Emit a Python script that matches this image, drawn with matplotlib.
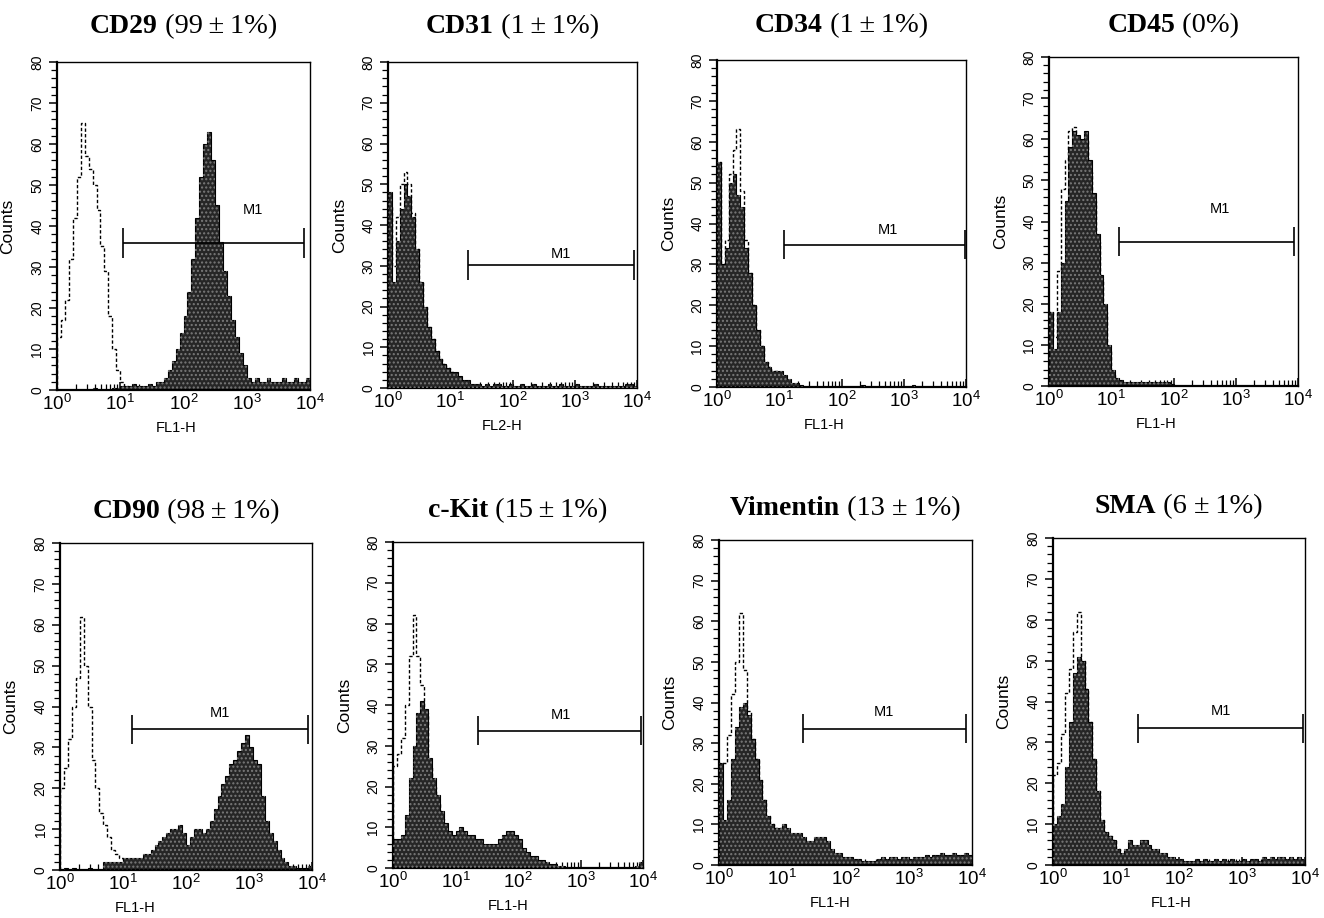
import numpy as np
import matplotlib

matplotlib.use("Agg")
import matplotlib.pyplot as plt
from matplotlib.ticker import MultipleLocator, LogLocator, FixedLocator, FuncFormatter, NullFormatter

plt.rcParams["font.family"] = ["Liberation Sans", "DejaVu Sans"]

# ---- data: counts per channel bin, 16 bins per decade from 10^0 to 10^4 ----
markers = ["CD29", "CD31", "CD34", "CD45", "CD90", "c-Kit", "Vimentin", "SMA"]
percent_labels = [" (99\u2009\u00b1\u20091%)", " (1\u2009\u00b1\u20091%)", " (1\u2009\u00b1\u20091%)", " (0%)",
                  " (98\u2009\u00b1\u20091%)", " (15\u2009\u00b1\u20091%)", " (13 \u00b1\u20091%)",
                  " (6 \u00b1\u20091%)"]
channels = ["FL1-H", "FL2-H", "FL1-H", "FL1-H", "FL1-H", "FL1-H", "FL1-H", "FL1-H"]
decades = [1, 10, 100, 1000, 10000]

cd29_stained = [
    0, 0, 0, 0, 0, 0, 0, 0, 0, 0.5, 0, 0, 0, 0, 0.5, 0.5,
    1, 1, 1, 1.5, 1, 1, 1, 1.5, 1, 2, 2, 3, 5, 7, 10, 14,
    18, 24, 32, 42, 52, 60, 63, 56, 45, 36, 29, 23, 17, 13, 9, 6,
    3, 2, 3, 2, 2, 3, 2, 2, 2, 3, 2, 2, 3, 2, 2, 3,
]
cd29_control = [
    13, 17, 22, 32, 42, 52, 65, 57, 54, 50, 44, 35, 29, 18, 10, 5,
    2, 1, 0.5, 0, 0, 0, 0, 0, 0, 0, 0, 0, 0, 0, 0, 0,
    0, 0, 0, 0, 0, 0, 0, 0, 0, 0, 0, 0, 0, 0, 0, 0,
    0, 0, 0, 0, 0, 0, 0, 0, 0, 0, 0, 0, 0, 0, 0, 0,
]
cd31_stained = [
    48, 26, 36, 44, 50, 47, 42, 34, 26, 20, 15, 12, 9, 7, 6, 5,
    4, 4, 3, 2, 2, 1, 1, 1, 0.5, 1, 0.5, 1, 1, 0.5, 0.5, 1,
    0.5, 0.5, 1, 0.5, 0.5, 1, 0.5, 0.5, 0.5, 1, 0.5, 0.5, 1, 0.5, 0.5, 0.5,
    1, 0.5, 0.5, 0.5, 0.5, 1, 0.5, 0.5, 0.5, 0.5, 0.5, 0.5, 0.5, 1, 1, 0.5,
]
cd31_control = [
    45, 30, 42, 50, 53, 50, 43, 34, 26, 20, 15, 12, 9, 7, 6, 5,
    4, 3, 2, 1, 1, 0.5, 0, 0, 0, 0, 0, 0, 0, 0, 0, 0,
    0, 0, 0, 0, 0, 0, 0, 0, 0, 0, 0, 0, 0, 0, 0, 0,
    0, 0, 0, 0, 0, 0, 0, 0, 0, 0, 0, 0, 0, 0, 0, 0,
]
cd34_stained = [
    55, 30, 34, 50, 52, 47, 44, 34, 28, 20, 14, 10, 6, 5, 4, 4,
    4, 3, 2, 1, 1, 0.5, 0, 0, 0, 0, 0, 0, 0, 0, 0, 0,
    0, 0, 0, 0, 0, 0.5, 0, 0, 0, 0, 0, 0, 0, 0, 0, 0,
    0, 0, 0.5, 0, 0, 0, 0, 0, 0, 0, 0, 0, 0, 0, 0, 0,
]
cd34_control = [
    55, 30, 36, 52, 58, 63, 48, 36, 28, 20, 14, 10, 6, 5, 4, 4,
    3, 2, 1, 0.5, 0, 0, 0, 0, 0, 0, 0, 0, 0, 0, 0, 0,
    0, 0, 0, 0, 0, 0, 0, 0, 0, 0, 0, 0, 0, 0, 0, 0,
    0, 0, 0, 0, 0, 0, 0, 0, 0, 0, 0, 0, 0, 0, 0, 0,
]
cd45_stained = [
    18, 9, 18, 30, 45, 58, 62, 61, 60, 62, 55, 47, 37, 27, 20, 10,
    4, 2, 1.5, 1, 1, 1, 1, 1, 1, 1, 1, 1, 1, 1, 1, 0.5,
    0, 0, 0, 0, 0, 0, 0, 0, 0, 0, 0, 0, 0, 0, 0, 0,
    0, 0, 0, 0, 0, 0, 0, 0, 0, 0, 0, 0, 0, 0, 0, 0,
]
cd45_control = [
    18, 12, 28, 48, 55, 62, 63, 60, 58, 60, 52, 45, 35, 26, 18, 9,
    3, 1, 0.5, 0, 0, 0, 0, 0, 0, 0, 0, 0, 0, 0, 0, 0,
    0, 0, 0, 0, 0, 0, 0, 0, 0, 0, 0, 0, 0, 0, 0, 0,
    0, 0, 0, 0, 0, 0, 0, 0, 0, 0, 0, 0, 0, 0, 0, 0,
]
cd90_stained = [
    0, 0.5, 0, 0.5, 0, 0, 0, 0.5, 0, 0, 0, 2, 2, 2, 2, 2,
    3, 3, 3, 3, 3, 4, 4, 5, 6, 7, 8, 9, 10, 10, 11, 9,
    6, 8, 10, 10, 9, 10, 12, 15, 18, 21, 23, 26, 27, 29, 31, 33,
    30, 27, 26, 18, 12, 9, 7, 5, 3, 2, 1, 1, 0.5, 0.5, 0.5, 1,
]
cd90_control = [
    20, 25, 32, 40, 47, 62, 50, 40, 27, 20, 14, 11, 8, 5, 4, 3,
    2, 1, 0.5, 0, 0, 0, 0, 0, 0, 0, 0, 0, 0, 0, 0, 0,
    0, 0, 0, 0, 0, 0, 0, 0, 0, 0, 0, 0, 0, 0, 0, 0,
    0, 0, 0, 0, 0, 0, 0, 0, 0, 0, 0, 0, 0, 0, 0, 0,
]
ckit_stained = [
    7, 7, 8, 13, 22, 30, 38, 41, 39, 27, 22, 18, 14, 11, 9, 8,
    9, 10, 9, 8, 8, 7, 7, 6, 6, 6, 6, 7, 8, 9, 9, 8,
    7, 5, 4, 3, 3, 2, 2, 1.5, 1, 1, 0.5, 0.5, 0, 0, 0, 0,
    0, 0, 0, 0, 0, 0, 0, 0, 0, 0, 0, 0, 0, 0, 0.5, 1.5,
]
ckit_control = [
    25, 28, 32, 40, 52, 62, 52, 45, 38, 25, 20, 16, 12, 9, 7, 6,
    5, 4, 3, 2, 1, 0.5, 0, 0, 0, 0, 0, 0, 0, 0, 0, 0,
    0, 0, 0, 0, 0, 0, 0, 0, 0, 0, 0, 0, 0, 0, 0, 0,
    0, 0, 0, 0, 0, 0, 0, 0, 0, 0, 0, 0, 0, 0, 0, 0,
]
vimentin_stained = [
    25, 11, 16, 26, 34, 39, 40, 37, 31, 26, 21, 16, 12, 10, 9, 9,
    10, 9, 8, 8, 8, 7, 6, 6, 7, 7, 7, 6, 4, 3, 3, 2,
    2, 2, 1.5, 1.5, 1, 1, 1, 1, 1.5, 2, 1.5, 2, 2, 1.5, 2, 2,
    1.5, 2, 2, 2, 2.5, 2, 2.5, 2.5, 3, 2.5, 2.5, 3, 2.5, 2.5, 3, 2.5,
]
vimentin_control = [
    25, 25, 32, 42, 50, 62, 48, 38, 31, 26, 21, 16, 12, 10, 9, 9,
    8, 6, 4, 2, 1, 0, 0, 0, 0, 0, 0, 0, 0, 0, 0, 0,
    0, 0, 0, 0, 0, 0, 0, 0, 0, 0, 0, 0, 0, 0, 0, 0,
    0, 0, 0, 0, 0, 0, 0, 0, 0, 0, 0, 0, 0, 0, 0, 0,
]
sma_stained = [
    10, 12, 15, 24, 35, 47, 51, 50, 43, 35, 26, 18, 11, 8, 7, 6,
    4, 3, 4, 6, 5, 5, 6, 6, 5, 4, 4, 3, 3, 2, 2, 1.5,
    1.5, 1, 1, 1, 1.5, 1, 1.5, 1, 1, 1.5, 1, 1.5, 1, 1.5, 1, 1,
    1.5, 1, 1.5, 1.5, 1, 2, 1.5, 2, 1.5, 2, 2, 1.5, 2, 1.5, 2, 1.5,
]
sma_control = [
    22, 25, 32, 42, 48, 57, 62, 50, 43, 35, 26, 18, 11, 8, 7, 6,
    4, 2, 1, 0, 0, 0, 0, 0, 0, 0, 0, 0, 0, 0, 0, 0,
    0, 0, 0, 0, 0, 0, 0, 0, 0, 0, 0, 0, 0, 0, 0, 0,
    0, 0, 0, 0, 0, 0, 0, 0, 0, 0, 0, 0, 0, 0, 0, 0,
]

stained = [cd29_stained, cd31_stained, cd34_stained, cd45_stained,
           cd90_stained, ckit_stained, vimentin_stained, sma_stained]
controls = [cd29_control, cd31_control, cd34_control, cd45_control,
            cd90_control, ckit_control, vimentin_control, sma_control]

# M1 gate: lower/upper fluorescence and the count level it is drawn at
gate_lo = [11, 19, 12, 13.5, 14, 23, 21, 22]
gate_hi = [8000, 9100, 9700, 8700, 8700, 9300, 8100, 9300]
gate_level = [35.8, 30.2, 34.8, 35.1, 34.4, 33.7, 33.6, 33.4]

# ---- layout (pixel boxes: left, top, right, bottom) ----
W, H = 1324, 918
boxes = [
    (57, 62, 310, 390), (388, 62, 637, 388), (717, 60, 966, 387), (1049, 57, 1298, 386),
    (60, 543, 312, 870), (393, 542, 643, 868), (719, 540, 972, 865), (1053, 538, 1305, 865),
]
title_baseline = [33, 33, 32, 32, 518, 517, 515, 513]
m1_text_pos = [(1260, 44), (590, 33), (550, 38.5), (550, 43),
               (350, 38.4), (490, 37.5), (400, 37.6), (470, 37.7)]
xlabel_x = [0.47, 0.46, 0.43, 0.43, 0.30, 0.46, 0.44, 0.47]

edges = np.logspace(0, 4, 65)
serif = ["Liberation Serif", "DejaVu Serif"]


def decade_label(v, pos):
    return r"$\mathregular{10^{%d}}$" % int(round(np.log10(v)))


def put_title(fig, ax, bold, rest, ypx):
    renderer = fig.canvas.get_renderer()
    y = 1 - ypx / H
    t1 = fig.text(0, y, bold, family=serif, fontweight="bold",
                  fontsize=20, ha="left", va="baseline")
    t2 = fig.text(0, y, rest, family=serif, fontsize=20.5, ha="left", va="baseline")
    w1 = t1.get_window_extent(renderer).width
    w2 = t2.get_window_extent(renderer).width
    bb = ax.get_position()
    cx = (bb.x0 + bb.x1) / 2
    x0 = cx - (w1 + w2) / 2 / W
    t1.set_x(x0)
    t2.set_x(x0 + w1 / W)


fig = plt.figure(figsize=(W / 100, H / 100), dpi=100)
fig.canvas.draw()

for i, (l, t, r, b) in enumerate(boxes):
    ax = fig.add_axes([l / W, 1 - b / H, (r - l) / W, (b - t) / H])
    ax.set_xscale("log")

    ax.stairs(controls[i], edges, color="black", linestyle=(0, (2.4, 1.6)),
              linewidth=1.0, zorder=1)
    ax.stairs(stained[i], edges, fill=True, facecolor="#262626",
              edgecolor="black", linewidth=0.8, zorder=2)
    ax.stairs(stained[i], edges, fill=True, facecolor="none",
              edgecolor="#7a7a7a", hatch="....", linewidth=0, zorder=3)

    # M1 marker
    ax.hlines(gate_level[i], gate_lo[i], gate_hi[i], color="black", lw=1.2, zorder=4)
    ax.vlines([gate_lo[i], gate_hi[i]], gate_level[i] - 3.6, gate_level[i] + 3.6,
              color="black", lw=1.2, zorder=4)
    tx, ty = m1_text_pos[i]
    ax.text(tx, ty, "M1", fontsize=10.5, ha="center", va="center")

    ax.set_xlim(1, 1e4)
    ax.set_ylim(0, 80)
    ax.xaxis.set_major_locator(FixedLocator(decades))
    ax.xaxis.set_minor_locator(LogLocator(base=10, subs=np.arange(2, 10), numticks=20))
    ax.xaxis.set_major_formatter(FuncFormatter(decade_label))
    ax.xaxis.set_minor_formatter(NullFormatter())
    ax.yaxis.set_major_locator(MultipleLocator(10))
    ax.yaxis.set_minor_locator(MultipleLocator(2))

    ax.tick_params(axis="x", which="both", direction="in", top=False, labelsize=13.5, pad=3)
    ax.tick_params(axis="x", which="major", length=6, width=1.1)
    ax.tick_params(axis="x", which="minor", length=4, width=0.9)
    ax.tick_params(axis="y", which="both", direction="out", right=False, labelsize=10, pad=3)
    ax.tick_params(axis="y", which="major", length=6, width=1.1)
    ax.tick_params(axis="y", which="minor", length=4, width=0.9)
    for lab in ax.get_yticklabels():
        lab.set_rotation(90)
        lab.set_va("center")

    for side in ("left", "bottom"):
        ax.spines[side].set_linewidth(1.6)
    for side in ("top", "right"):
        ax.spines[side].set_linewidth(1.0)

    ax.set_ylabel("Counts", fontsize=12.5)
    ax.yaxis.set_label_coords(-0.165, 0.5)
    ax.set_xlabel(channels[i], fontsize=10.5)
    ax.xaxis.set_label_coords(xlabel_x[i], -0.095)

    put_title(fig, ax, markers[i], percent_labels[i], title_baseline[i])

fig.savefig("out.png", dpi=100)
